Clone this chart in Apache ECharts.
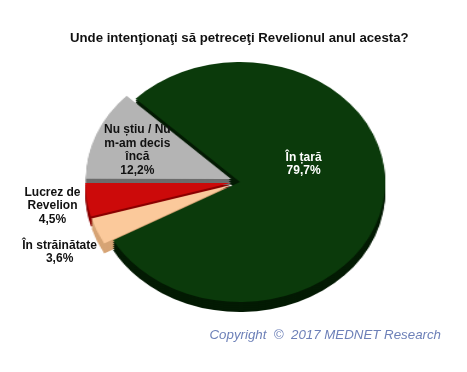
<!DOCTYPE html>
<html>
<head>
<meta charset="utf-8">
<script src="https://cdn.jsdelivr.net/npm/echarts@6/dist/echarts.min.js"></script>
<style>
html,body{margin:0;padding:0;background:#fff;overflow:hidden;width:467px;height:372px;}
#pie,#fg{position:absolute;left:0;top:0;width:467px;height:372px;}
#pie{transform:scaleX(1.21);transform-origin:240px 0;}
</style>
</head>
<body>
<div id="pie"></div>
<div id="fg"></div>
<script>
// ---- data ----
const categories = ['În țară', 'În străinătate', 'Lucrez de\nRevelion', 'Nu știu / Nu\nm-am decis\nîncă'];
const values = [79.7, 3.6, 4.5, 12.2];
const exploded = [false, true, true, true];
const titleText = 'Unde intenţionaţi să petreceţi Revelionul anul acesta?';
const copyrightText = 'Copyright  ©  2017 MEDNET Research';

// ---- styling ----
const topColors = ['#0b3a0b', '#fbc99b', '#cc0a0a', '#b4b4b4'];
const sideColors = ['#031a03', '#d6a475', '#8a0000', '#6c6c6c'];
const CX = 240, CY = 182, R = 120, SX = 1.21, START = 136, OFFSET = 8;
const depths = [10, 8, 6, 4, 2, 0];
const labelNudge = [{dx: -12, dy: -26}, {dx: -110, dy: 46}, {dx: -112, dy: 15}, {dx: -32, dy: -8}];
const labelColors = ['#ffffff', '#111111', '#111111', '#111111'];

function pieData(colors, withLabels) {
  return categories.map((c, i) => ({
    name: c,
    value: values[i],
    selected: withLabels ? false : exploded[i],
    itemStyle: {color: colors[i]},
    label: withLabels ? {color: labelColors[i]} : undefined
  }));
}

const pieChart = echarts.init(document.getElementById('pie'), null, {renderer: 'canvas'});
pieChart.setOption({
  animation: false,
  series: depths.map(d => ({
    type: 'pie',
    center: [CX, CY + d],
    radius: R,
    startAngle: START,
    clockwise: true,
    selectedMode: 'multiple',
    selectedOffset: OFFSET,
    silent: true,
    label: {show: false},
    labelLine: {show: false},
    emphasis: {disabled: true},
    data: pieData(d === 0 ? topColors : sideColors, false)
  }))
});

const fg = echarts.init(document.getElementById('fg'), null, {renderer: 'canvas'});
fg.setOption({
  animation: false,
  title: {
    text: titleText,
    left: 65,
    top: 27,
    textStyle: {fontFamily: 'Liberation Sans, Arial, sans-serif', fontSize: 13.2, fontWeight: 'bold', color: '#111'}
  },
  graphic: [{
    type: 'text',
    right: 26,
    top: 329,
    style: {text: copyrightText, font: 'italic 13.3px "Liberation Sans", Arial, sans-serif', fill: '#6d80b8'}
  }],
  series: [{
    type: 'pie',
    center: [CX, CY],
    radius: R,
    startAngle: START,
    clockwise: true,
    silent: true,
    emphasis: {disabled: true},
    itemStyle: {color: 'rgba(0,0,0,0)'},
    label: {
      show: true,
      position: 'inside',
      fontFamily: 'Liberation Sans, Arial, sans-serif',
      fontSize: 12,
      fontWeight: 'bold',
      lineHeight: 13.5,
      align: 'center',
      formatter: p => p.name + '\n' + p.value.toFixed(1).replace('.', ',') + '%'
    },
    labelLine: {show: false},
    labelLayout: function (p) {
      const r = p.labelRect;
      const mx = r.x + r.width / 2, my = r.y + r.height / 2;
      const n = labelNudge[p.dataIndex];
      return {x: CX + (mx - CX) * SX + n.dx, y: my + n.dy, align: 'center', verticalAlign: 'middle'};
    },
    data: pieData(topColors.map(() => 'rgba(0,0,0,0)'), true)
  }]
});
</script>
</body>
</html>
